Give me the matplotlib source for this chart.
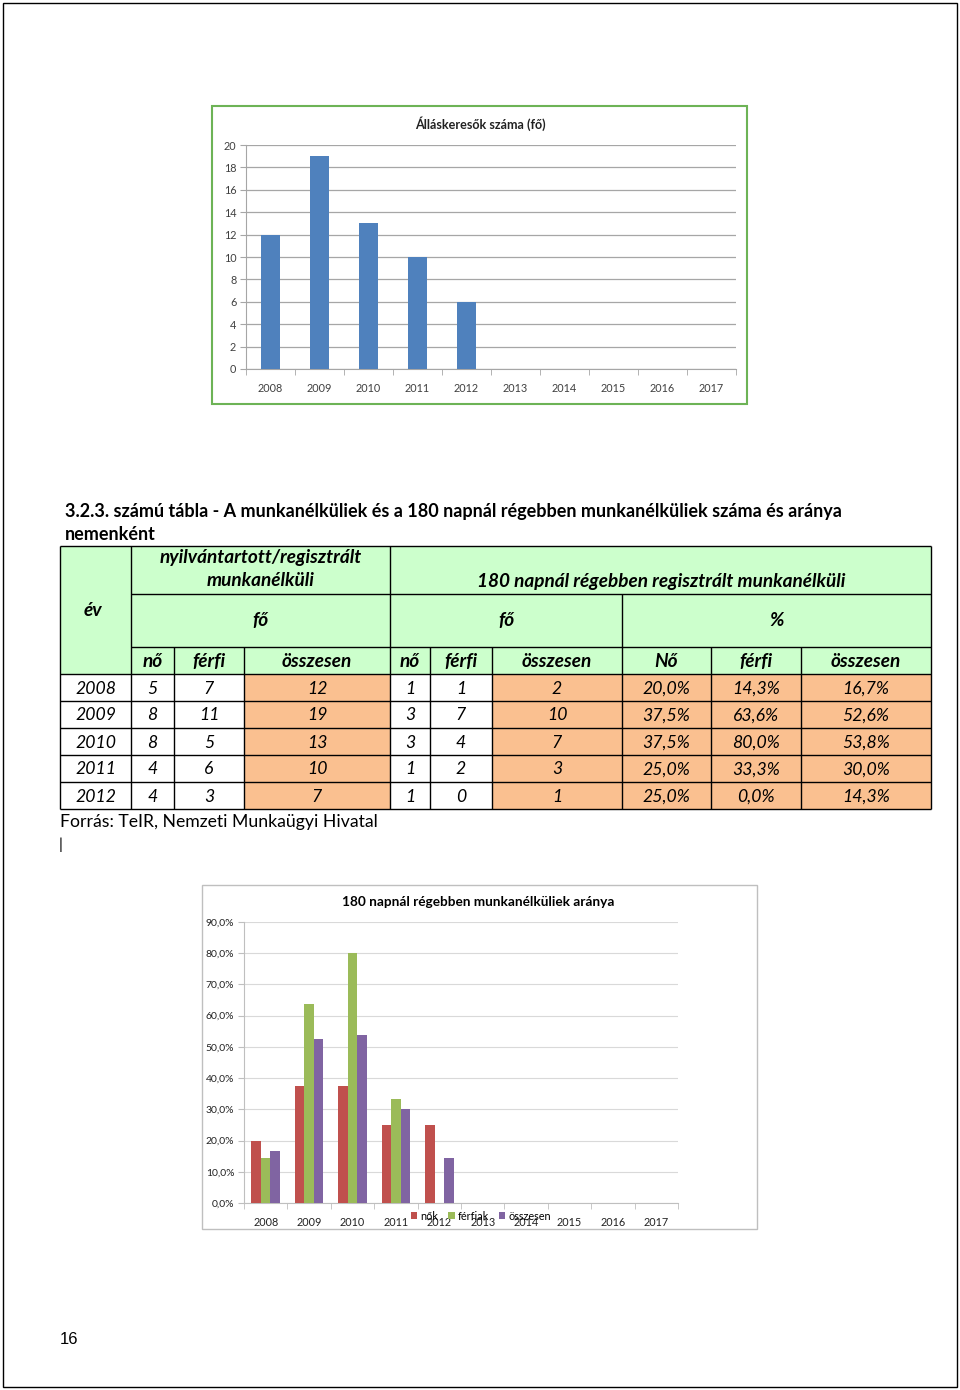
import numpy as np
import matplotlib
matplotlib.use("Agg")
import matplotlib.pyplot as plt
from matplotlib.patches import Rectangle

plt.rcParams['font.family'] = ['Lato', 'DejaVu Sans']

# ---------------- data ----------------
chart_years = ['2008', '2009', '2010', '2011', '2012', '2013', '2014', '2015', '2016', '2017']
allaskeresok = [12, 19, 13, 10, 6]

table_years = ['2008', '2009', '2010', '2011', '2012']
nyilv_no = [5, 8, 8, 4, 4]
nyilv_ferfi = [7, 11, 5, 6, 3]
nyilv_ossz = [12, 19, 13, 10, 7]
r180_no = [1, 3, 3, 1, 1]
r180_ferfi = [1, 7, 4, 2, 0]
r180_ossz = [2, 10, 7, 3, 1]
pct_no = [20.0, 37.5, 37.5, 25.0, 25.0]
pct_ferfi = [14.3, 63.6, 80.0, 33.3, 0.0]
pct_ossz = [16.7, 52.6, 53.8, 30.0, 14.3]

sub_headers = ['nő', 'férfi', 'összesen', 'nő', 'férfi', 'összesen', 'Nő', 'férfi', 'összesen']
legend_labels = ['nők', 'férfiak', 'összesen']

W, H = 960, 1390
fig = plt.figure(figsize=(W / 100, H / 100), dpi=100)
renderer = fig.canvas.get_renderer()


def fit_size(s, target_px, **kw):
    t = fig.text(0, 0, s, fontsize=10, **kw)
    w = t.get_window_extent(renderer).width
    t.remove()
    return 10 * target_px / w


def fax(l, t, r, b):
    return fig.add_axes([l / W, 1 - b / H, (r - l) / W, (b - t) / H])


page = fig.add_axes([0, 0, 1, 1])
page.set_xlim(0, W)
page.set_ylim(H, 0)
page.axis('off')

# page border
page.add_patch(Rectangle((3, 3), 954, 1384, fill=False, ec='black', lw=1))

# ---------------- top chart ----------------
page.add_patch(Rectangle((212, 106), 535, 298, fill=False, ec='#6DB356', lw=1.5))
tsize = fit_size('Álláskeresők száma (fő)', 132, weight='bold')
page.text(480, 124, 'Álláskeresők száma (fő)', ha='center', va='center',
          fontsize=tsize, weight='bold', color='#222222')

ax1 = fax(246, 145, 736, 369)
x = np.arange(len(chart_years))
ax1.bar(x[:len(allaskeresok)], allaskeresok, width=0.39, color='#4F81BD', zorder=3)
ax1.set_xlim(-0.5, len(chart_years) - 0.5)
ax1.set_ylim(0, 20)
ax1.set_yticks(np.arange(0, 21, 2))
ax1.set_xticks(x)
ax1.set_xticklabels(chart_years)
ax1.set_xticks(np.arange(-0.5, len(chart_years), 1), minor=True)
ax1.grid(axis='y', color='#A6A6A6', lw=0.9, zorder=0)
ax1.set_axisbelow(True)
for s in ['top', 'right']:
    ax1.spines[s].set_visible(False)
for s in ['left', 'bottom']:
    ax1.spines[s].set_color('#A6A6A6')
ax1.tick_params(axis='x', which='major', length=0, pad=10, labelsize=7.8, labelcolor='#404040')
ax1.tick_params(axis='x', which='minor', length=4, color='#A6A6A6')
ax1.tick_params(axis='y', length=4, color='#A6A6A6', pad=3, labelsize=7.8, labelcolor='#404040')

# ---------------- heading ----------------
hsize = fit_size('3.2.3. számú tábla - A munkanélküliek és a 180 napnál régebben munkanélküliek száma és aránya',
                 778, weight='bold')
page.text(65, 511, '3.2.3. számú tábla - A munkanélküliek és a 180 napnál régebben munkanélküliek száma és aránya',
          ha='left', va='center', fontsize=hsize, weight='bold')
page.text(65, 534, 'nemenként', ha='left', va='center', fontsize=hsize, weight='bold')

# ---------------- table ----------------
green = '#CCFFCC'
orange = '#FAC090'
cols = [60, 131, 174, 244, 390, 430, 492, 622, 711, 801, 931]
y_top, y_r1, y_r2, y_r3 = 546, 594, 647, 674
rh = 27
n = len(table_years)

page.add_patch(Rectangle((cols[0], y_top), cols[-1] - cols[0], y_r3 - y_top, fc=green, ec='none'))
orange_cols = [3, 6, 7, 8, 9]
for ci in orange_cols:
    page.add_patch(Rectangle((cols[ci], y_r3), cols[ci + 1] - cols[ci], rh * n, fc=orange, ec='none'))

lw = 1.0
def hline(y, x0, x1):
    page.plot([x0, x1], [y, y], color='black', lw=lw, solid_capstyle='butt')
def vline(x_, y0, y1):
    page.plot([x_, x_], [y0, y1], color='black', lw=lw, solid_capstyle='butt')

y_bot = y_r3 + rh * n
hline(y_top, cols[0], cols[-1])
hline(y_r1, cols[1], cols[-1])
hline(y_r2, cols[1], cols[-1])
for i in range(n + 1):
    hline(y_r3 + i * rh, cols[0], cols[-1])
vline(cols[0], y_top, y_bot)
vline(cols[1], y_top, y_bot)
vline(cols[4], y_top, y_bot)
vline(cols[-1], y_top, y_bot)
vline(cols[7], y_r1, y_bot)
for ci in [2, 3, 5, 6, 8, 9]:
    vline(cols[ci], y_r2, y_bot)

hdsize = fit_size('180 napnál régebben regisztrált munkanélküli', 367, weight='bold', style='italic')
hk = dict(ha='center', va='center', fontsize=hdsize, weight='bold', style='italic')
page.text(93, 610, 'év', **hk)
page.text((cols[1] + cols[4]) / 2, 558, 'nyilvántartott/regisztrált', **hk)
page.text((cols[1] + cols[4]) / 2, 581, 'munkanélküli', **hk)
page.text((cols[4] + cols[-1]) / 2 + 1, 582, '180 napnál régebben regisztrált munkanélküli', **hk)
page.text((cols[1] + cols[4]) / 2, 621, 'fő', **hk)
page.text((cols[4] + cols[7]) / 2, 621, 'fő', **hk)
page.text((cols[7] + cols[-1]) / 2, 621, '%', **hk)
for i, s in enumerate(sub_headers):
    page.text((cols[i + 1] + cols[i + 2]) / 2, (y_r2 + y_r3) / 2 + 1, s, **hk)

dsize = fit_size('Forrás: TeIR, Nemzeti Munkaügyi Hivatal', 316)
dk = dict(ha='center', va='center', fontsize=dsize, style='italic')

def pct(v):
    return f'{v:.1f}%'.replace('.', ',')

columns = [table_years, nyilv_no, nyilv_ferfi, nyilv_ossz, r180_no, r180_ferfi, r180_ossz,
           [pct(v) for v in pct_no], [pct(v) for v in pct_ferfi], [pct(v) for v in pct_ossz]]
for ci, col in enumerate(columns):
    xc = (cols[ci] + cols[ci + 1]) / 2
    for ri, v in enumerate(col):
        page.text(xc, y_r3 + ri * rh + rh / 2 + 1, str(v), **dk)

page.text(60, 822, 'Forrás: TeIR, Nemzeti Munkaügyi Hivatal', ha='left', va='center', fontsize=dsize)
page.text(59, 845, '|', ha='left', va='center', fontsize=dsize * 0.9)

# ---------------- bottom chart ----------------
page.add_patch(Rectangle((202, 885), 555, 344, fill=False, ec='#BFBFBF', lw=1))
bsize = fit_size('180 napnál régebben munkanélküliek aránya', 271, weight='bold')
page.text(478, 902, '180 napnál régebben munkanélküliek aránya', ha='center', va='center',
          fontsize=bsize, weight='bold')

ax2 = fax(244, 922, 678, 1203)
bw = 0.22
xs = np.arange(len(table_years))
ax2.bar(xs - bw, pct_no, width=bw, color='#C0504D', label=legend_labels[0], zorder=3)
ax2.bar(xs, pct_ferfi, width=bw, color='#9BBB59', label=legend_labels[1], zorder=3)
ax2.bar(xs + bw, pct_ossz, width=bw, color='#8064A2', label=legend_labels[2], zorder=3)
ax2.set_xlim(-0.5, len(chart_years) - 0.5)
ax2.set_ylim(0, 90)
yt = np.arange(0, 91, 10)
ax2.set_yticks(yt)
ax2.set_yticklabels([pct(v) for v in yt])
ax2.set_xticks(np.arange(len(chart_years)))
ax2.set_xticklabels(chart_years)
ax2.set_xticks(np.arange(-0.5, len(chart_years), 1), minor=True)
ax2.grid(axis='y', color='#D9D9D9', lw=0.8, zorder=0)
ax2.set_axisbelow(True)
for s in ['top', 'right']:
    ax2.spines[s].set_visible(False)
for s in ['left', 'bottom']:
    ax2.spines[s].set_color('#BFBFBF')
ax2.tick_params(axis='x', which='major', length=0, pad=10, labelsize=7.8, labelcolor='#222222')
ax2.tick_params(axis='x', which='minor', length=4, color='#BFBFBF')
ax2.tick_params(axis='y', length=4, color='#BFBFBF', pad=3, labelsize=7.5, labelcolor='#222222')

handles, labels = ax2.get_legend_handles_labels()
fig.legend(handles, labels, loc='center', bbox_to_anchor=(481 / W, 1 - 1216 / H), ncol=3,
           frameon=False, fontsize=7.8, handlelength=0.6, handleheight=0.6,
           handletextpad=0.3, columnspacing=0.9, borderpad=0)

# page number
page.text(60, 1340, '16', ha='left', va='center', fontsize=12, family=['Liberation Sans', 'DejaVu Sans'])

fig.savefig('out.png', dpi=100)
